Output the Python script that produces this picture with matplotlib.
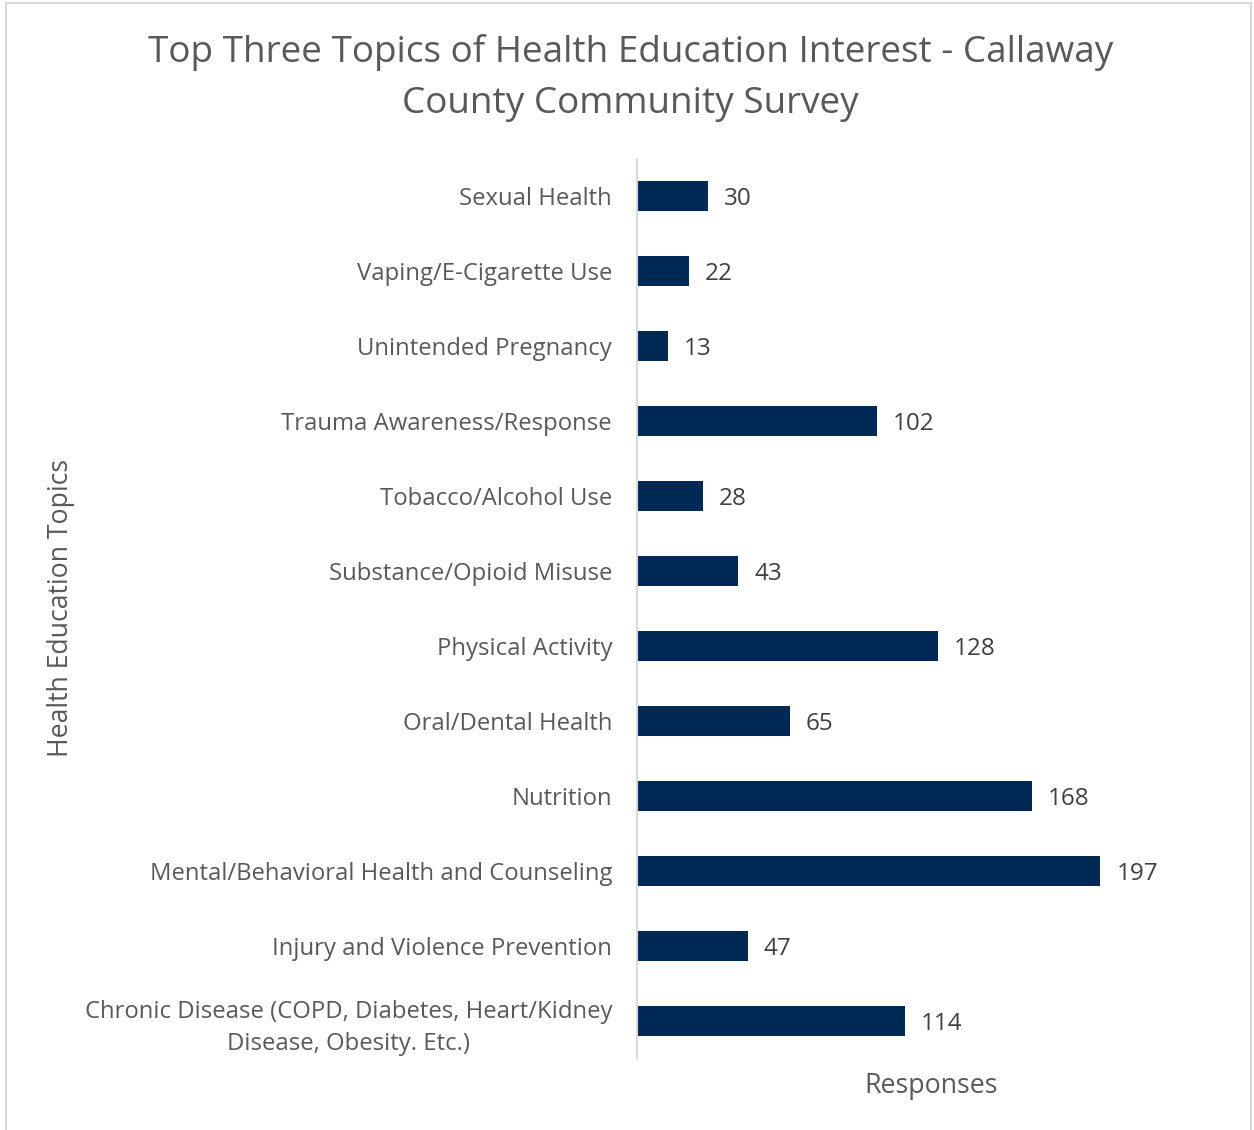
import matplotlib.pyplot as plt
from matplotlib.patches import Rectangle

plt.rcParams['font.family'] = ['Open Sans', 'DejaVu Sans']

topics = [
    'Sexual Health',
    'Vaping/E-Cigarette Use',
    'Unintended Pregnancy',
    'Trauma Awareness/Response',
    'Tobacco/Alcohol Use',
    'Substance/Opioid Misuse',
    'Physical Activity',
    'Oral/Dental Health',
    'Nutrition',
    'Mental/Behavioral Health and Counseling',
    'Injury and Violence Prevention',
    'Chronic Disease (COPD, Diabetes, Heart/Kidney\nDisease, Obesity. Etc.)',
]
responses = [30, 22, 13, 102, 28, 43, 128, 65, 168, 197, 47, 114]

bar_color = '#002855'
text_color = '#595959'

fig = plt.figure(figsize=(12.54, 11.3), dpi=100)
ax = fig.add_axes([0.508, 0.0637, 0.469, 0.796])

y = list(range(len(topics)))
ax.barh(y, responses, height=0.4, color=bar_color)
ax.set_ylim(len(topics) - 0.5, -0.5)
ax.set_xlim(0, 250)

for yi, v in zip(y, responses):
    ax.annotate(str(v), (v, yi), xytext=(11.5, 0), textcoords='offset points',
                va='center_baseline', ha='left', fontsize=17.5, color='#404040')

ax.set_yticks(y)
ax.set_yticklabels(topics, fontsize=17.2, color=text_color, ha='right',
                   multialignment='center', linespacing=1.45)
ax.tick_params(axis='y', length=0, pad=18)
ax.set_xticks([])

for side in ['top', 'right', 'bottom']:
    ax.spines[side].set_visible(False)
ax.spines['left'].set_color('#d9d9d9')
ax.spines['left'].set_linewidth(1.5)

ax.set_xlabel('Responses', fontsize=19.3, color=text_color, labelpad=10)
fig.text(0.049, 0.462, 'Health Education Topics', rotation=90, fontsize=19.2,
         color=text_color, ha='center', va='center')

fig.text(0.503, 0.931, 'Top Three Topics of Health Education Interest - Callaway\nCounty Community Survey',
         ha='center', va='center', fontsize=26.6, color=text_color, linespacing=1.55)

# light frame around the chart area
fig.patches.append(Rectangle((0.005, -0.01), 0.993, 1.007, transform=fig.transFigure,
                             fill=False, edgecolor='#d9d9d9', linewidth=1.5))

fig.savefig('out.png', dpi=100)
